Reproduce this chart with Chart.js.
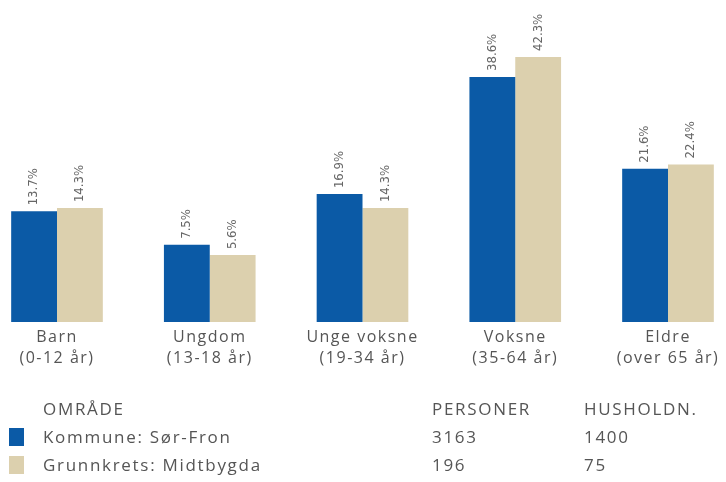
<!DOCTYPE html>
<html>
<head>
<meta charset="utf-8">
<script src="https://cdn.jsdelivr.net/npm/chart.js@4"></script>
<style>
  html, body { margin: 0; padding: 0; background: #ffffff; }
  #wrap { position: relative; width: 726px; height: 482px; overflow: hidden; }
  canvas { position: absolute; left: 0; top: 0; }
  .t { position: absolute; font-family: "Open Sans", sans-serif; font-size: 17px; letter-spacing: 1.7px; color: #555555; white-space: nowrap; line-height: 20px; }
  .sq { position: absolute; width: 15px; height: 18px; }
</style>
</head>
<body>
<div id="wrap">
  <canvas id="c" width="726" height="482"></canvas>
  <div id="legend"></div>
</div>
<script>
const categories = [["Barn", "(0-12 år)"], ["Ungdom", "(13-18 år)"], ["Unge voksne", "(19-34 år)"], ["Voksne", "(35-64 år)"], ["Eldre", "(over 65 år)"]];
const seriesNames = ["Kommune: Sør-Fron", "Grunnkrets: Midtbygda"];
const kommuneValues = [13.7, 7.5, 16.9, 38.6, 21.6];
const grunnkretsValues = [14.3, 5.6, 14.3, 42.3, 22.4];
const personer = [3163, 196];
const husholdninger = [1400, 75];
const tableHeaders = ["OMRÅDE", "PERSONER", "HUSHOLDN."];
const colors = ["#0b5aa6", "#dcd0ae"];

const AXIS_MIN = -6.8;

const spacingPlugin = {
  id: 'spacing',
  beforeInit(chart) { chart.ctx.letterSpacing = '1.5px'; },
  beforeDraw(chart) { chart.ctx.letterSpacing = '1.5px'; }
};

const labelPlugin = {
  id: 'rotLabels',
  afterDatasetsDraw(chart) {
    const ctx = chart.ctx;
    ctx.save();
    ctx.letterSpacing = '0px';
    ctx.font = '13px "DejaVu Sans Condensed", "DejaVu Sans", sans-serif';
    ctx.fillStyle = '#666666';
    ctx.textAlign = 'left';
    ctx.textBaseline = 'middle';
    chart.data.datasets.forEach((ds, di) => {
      const meta = chart.getDatasetMeta(di);
      meta.data.forEach((bar, i) => {
        ctx.save();
        ctx.translate(bar.x, bar.y - 6);
        ctx.rotate(-Math.PI / 2);
        ctx.fillText(ds.data[i].toFixed(1) + '%', 0, 0);
        ctx.restore();
      });
    });
    ctx.restore();
  }
};

new Chart(document.getElementById('c'), {
  type: 'bar',
  data: {
    labels: categories,
    datasets: [
      { label: seriesNames[0], data: kommuneValues, backgroundColor: colors[0], base: AXIS_MIN, clip: false },
      { label: seriesNames[1], data: grunnkretsValues, backgroundColor: colors[1], base: AXIS_MIN, clip: false }
    ]
  },
  options: {
    responsive: false,
    animation: false,
    events: [],
    categoryPercentage: 0.6,
    barPercentage: 1.0,
    layout: { padding: { left: 57, right: 58, top: 10, bottom: 0 } },
    plugins: { legend: { display: false }, tooltip: { enabled: false } },
    scales: {
      x: {
        offset: false,
        grid: { display: false, drawTicks: false },
        border: { display: false },
        ticks: {
          color: '#555555',
          font: { family: '"Open Sans", sans-serif', size: 16, lineHeight: 1.3 },
          padding: 5,
          maxRotation: 0,
          autoSkip: false
        },
        afterFit(scale) { scale.height = 160; }
      },
      y: {
        display: false,
        min: AXIS_MIN,
        max: 51
      }
    }
  },
  plugins: [spacingPlugin, labelPlugin]
});

// Legend table (HTML text)
const legend = document.getElementById('legend');
function addText(txt, x, y) {
  const d = document.createElement('div');
  d.className = 't';
  d.style.left = x + 'px';
  d.style.top = y + 'px';
  d.textContent = txt;
  legend.appendChild(d);
}
function addSquare(color, x, y) {
  const d = document.createElement('div');
  d.className = 'sq';
  d.style.left = x + 'px';
  d.style.top = y + 'px';
  d.style.background = color;
  legend.appendChild(d);
}
const colX = [43, 432, 584];
const rowY = [399, 427, 455];
addText(tableHeaders[0], colX[0], rowY[0]);
addText(tableHeaders[1], colX[1], rowY[0]);
addText(tableHeaders[2], colX[2], rowY[0]);
seriesNames.forEach((name, i) => {
  addSquare(colors[i], 9, rowY[i + 1] + 1);
  addText(name, colX[0], rowY[i + 1]);
  addText(String(personer[i]), colX[1], rowY[i + 1]);
  addText(String(husholdninger[i]), colX[2], rowY[i + 1]);
});
</script>
</body>
</html>
